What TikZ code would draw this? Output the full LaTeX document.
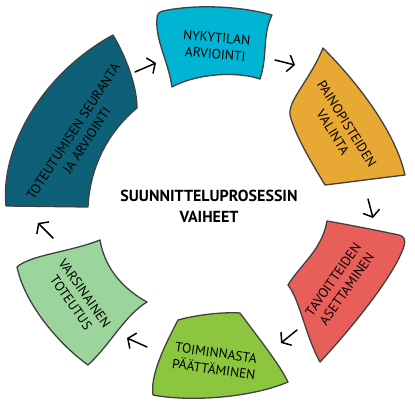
\documentclass[tikz,border=0pt]{standalone}
\usepackage{fontspec}
\setmainfont{PT Sans}
\usepackage{tikz}
\usetikzlibrary{arrows.meta}
\usetikzlibrary{positioning}

\definecolor{phaseteal}{RGB}{14,96,120}
\definecolor{phasecyan}{RGB}{0,180,212}
\definecolor{phaseorange}{RGB}{232,168,52}
\definecolor{phasered}{RGB}{232,95,90}
\definecolor{phasegreen}{RGB}{140,198,63}
\definecolor{phaselight}{RGB}{155,213,155}

\begin{document}
\begin{tikzpicture}[x=1pt,y=-1pt,
		phase/.style={draw=black!75, line width=1.3pt, line join=round},
		lbl/.style={align=center, inner sep=0pt, font=\fontsize{13.5}{16.5}\selectfont},
		arr/.style={-{Straight Barb[length=6pt,width=17pt]}, line width=1.5pt, line cap=round}]
		\useasboundingbox (0,0) rectangle (415,404);
		
		% the six phases
		\filldraw[phase, fill=phaseteal] (113,35) .. controls (125,55) and (137,85) .. (137,108)
		.. controls (110,130) and (90,165) .. (88,207) -- (6,206)
		.. controls (0,150) and (40,75) .. (113,35) -- cycle;
		
		\filldraw[phase, fill=phasecyan] (163,11) .. controls (195,4) and (240,6) .. (272,15)
		.. controls (262,35) and (268,55) .. (260,79)
		.. controls (240,72) and (200,72) .. (172,87)
		.. controls (168,60) and (155,40) .. (157,18) .. controls (157,14) and (159,12) .. (163,11) -- cycle;
		
		\filldraw[phase, fill=phaseorange] (323,48) .. controls (355,80) and (395,130) .. (405,175)
		.. controls (380,178) and (350,182) .. (325,185)
		.. controls (310,160) and (295,135) .. (290,115)
		.. controls (288,100) and (310,80) .. (323,48) -- cycle;
		
		\filldraw[phase, fill=phasered] (327,221) .. controls (350,225) and (380,231) .. (399,235)
		.. controls (404,236) and (406,240) .. (404,246)
		.. controls (395,275) and (350,330) .. (320,362)
		.. controls (305,335) and (300,300) .. (288,285)
		.. controls (300,265) and (322,250) .. (327,221) -- cycle;
		
		\filldraw[phase, fill=phasegreen] (178,320) .. controls (200,314) and (225,312) .. (240,313)
		.. controls (260,340) and (280,365) .. (288,382)
		.. controls (250,398) and (190,402) .. (153,395)
		.. controls (150,375) and (165,345) .. (178,320) -- cycle;
		
		\filldraw[phase, fill=phaselight] (100,240) .. controls (70,252) and (30,255) .. (17,267)
		.. controls (25,305) and (60,345) .. (88,365)
		.. controls (110,345) and (125,315) .. (147,302)
		.. controls (125,290) and (105,270) .. (100,240) -- cycle;
		
		% labels
		\node[lbl, rotate=57] (seuranta) at (80,136) {TOTEUTUMISEN SEURANTA\\JA ARVIOINTI};
		\node[lbl, rotate=-5] (nykytila) at (216,46) {NYKYTILAN\\ARVIOINTI};
		\node[lbl, rotate=-58] (painopiste) at (340,128) {PAINOPISTEIDEN\\VALINTA};
		\node[lbl, rotate=55] (tavoite) at (340,284) {TAVOITTEIDEN\\ASETTAMINEN};
		\node[lbl, rotate=-8] (paatos) at (215,361) {TOIMINNASTA\\PÄÄTTÄMINEN};
		\node[lbl, rotate=-55] (toteutus) at (78,298) {VARSINAINEN\\TOTEUTUS};
		
		\node[align=center, font=\fontsize{16}{21}\selectfont\bfseries] (otsikko) at (209,206) {SUUNNITTELUPROSESSIN\\VAIHEET};
		
		% arrows
		\coordinate (a1s) at (135,72);  \coordinate (a1e) at (156,63);
		\coordinate (a2s) at (275,60);  \coordinate (a2e) at (295,65);
		\coordinate (a3s) at (368,199); \coordinate (a3e) at (373,218);
		\coordinate (a4s) at (297,330); \coordinate (a4e) at (281,343);
		\coordinate (a5s) at (147,347); \coordinate (a5e) at (127,338);
		\coordinate (a6s) at (53,238);  \coordinate (a6e) at (38,223);
		
		\draw[arr] (a1s) -- (a1e);
		\draw[arr] (a2s) -- (a2e);
		\draw[arr] (a3s) -- (a3e);
		\draw[arr] (a4s) -- (a4e);
		\draw[arr] (a5s) -- (a5e);
		\draw[arr] (a6s) -- (a6e);
	\end{tikzpicture}
\end{document}
